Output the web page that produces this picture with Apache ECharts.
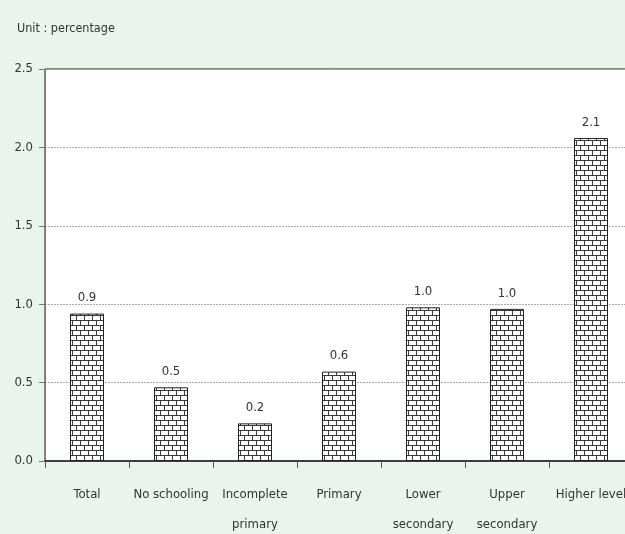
<!DOCTYPE html>
<html>
<head>
<meta charset="utf-8">
<script src="https://cdn.jsdelivr.net/npm/echarts@6/dist/echarts.min.js"></script>
<style>
html,body{margin:0;padding:0;background:#e9f4ec;}
#c{width:625px;height:534px;}
</style>
</head>
<body>
<div id="c"></div>
<script>
var categories = ['Total', 'No schooling', 'Incomplete\nprimary', 'Primary', 'Lower\nsecondary', 'Upper\nsecondary', 'Higher level'];
var values = [0.94, 0.47, 0.24, 0.57, 0.98, 0.97, 2.06];
var yTicks = [0, 0.5, 1.0, 1.5, 2.0, 2.5];
var unitText = 'Unit : percentage';

function brick() {
  var c = document.createElement('canvas');
  c.width = 8; c.height = 10;
  var g = c.getContext('2d');
  g.fillStyle = '#ffffff';
  g.fillRect(0, 0, 8, 10);
  g.fillStyle = '#3a3a3a';
  g.fillRect(0, 0, 8, 1);
  g.fillRect(0, 5, 8, 1);
  g.fillRect(0, 0, 1, 5);
  g.fillRect(4, 5, 1, 5);
  return c;
}

var font = '"DejaVu Sans Condensed", sans-serif';
var chart = echarts.init(document.getElementById('c'), null, {renderer: 'canvas'});
chart.setOption({
  backgroundColor: '#e9f4ec',
  animation: false,
  title: {
    text: unitText, left: 12, top: 17,
    textStyle: {fontFamily: font, fontSize: 12.5, fontWeight: 'normal', color: '#333'}
  },
  grid: {
    left: 45, top: 69, bottom: 73, right: -8,
    outerBoundsMode: 'none', containLabel: false,
    show: true, backgroundColor: '#ffffff', borderColor: '#222', borderWidth: 1
  },
  xAxis: {
    type: 'category',
    data: categories,
    axisLine: {lineStyle: {color: '#222', width: 1.5}},
    axisTick: {show: true, length: 7, lineStyle: {color: '#555'}},
    axisLabel: {fontFamily: font, fontSize: 13, color: '#333', margin: 19, lineHeight: 30, interval: 0}
  },
  yAxis: {
    type: 'value',
    min: yTicks[0], max: yTicks[yTicks.length - 1], interval: 0.5,
    axisLine: {show: true, lineStyle: {color: '#777'}},
    axisTick: {show: true, length: 6, lineStyle: {color: '#777'}},
    axisLabel: {fontFamily: font, fontSize: 13, color: '#333', margin: 12,
      formatter: function (v) { return v.toFixed(1); }},
    splitLine: {show: true, lineStyle: {color: '#aaa', type: [2, 1], width: 1}}
  },
  series: [{
    type: 'bar',
    data: values,
    barWidth: 34,
    itemStyle: {color: {image: brick(), repeat: 'repeat'}, borderColor: '#222', borderWidth: 1},
    label: {
      show: true, position: 'top', distance: 9,
      fontFamily: font, fontSize: 13, color: '#333',
      formatter: function (p) { return p.value.toFixed(1); }
    }
  }]
});
</script>
</body>
</html>
